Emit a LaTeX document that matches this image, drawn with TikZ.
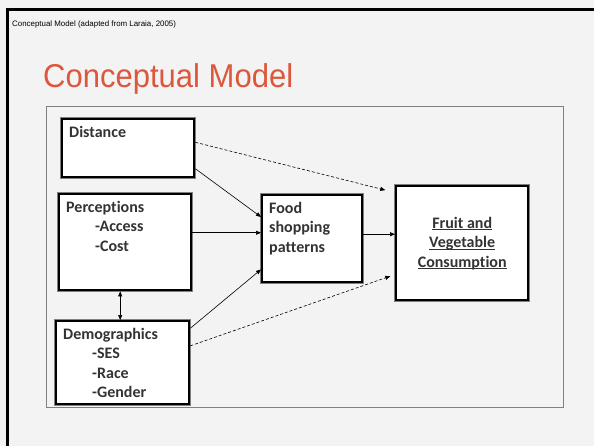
\documentclass[tikz,border=0pt]{standalone}
\usepackage{fontspec}
\setmainfont{Carlito}[Ligatures=NoCommon]
\newfontfamily\slidefont{Liberation Sans}
\usepackage{xcolor}
\usetikzlibrary{arrows.meta}
\definecolor{titlered}{HTML}{DC573C}
\definecolor{slidebg}{HTML}{F3F3F3}
\definecolor{boxtext}{HTML}{333333}

\newcommand{\boxtxt}[3]{\begin{minipage}[t][#2][t]{#1}#3\end{minipage}}
\newcommand{\undl}[1]{\leavevmode\setbox0\hbox{#1}\rlap{\rule[-2.2pt]{\wd0}{1.1pt}}\box0}

\begin{document}
\begin{tikzpicture}[x=1pt,y=-1pt,
  factor/.style={draw=black,line width=2.4pt,fill=white,anchor=north west,inner xsep=7pt,inner ysep=7pt,
    text=boxtext,font=\fontsize{16}{19.5}\selectfont\bfseries,preaction={draw=black!50,line width=4.4pt}},
  arr/.style={-{Triangle[length=5pt,width=4pt]},line width=0.6pt},
  darr/.style={arr,dash pattern=on 3pt off 2pt},
  biarr/.style={{Triangle[length=5pt,width=4pt]}-{Triangle[length=5pt,width=4pt]},line width=0.6pt}]
\fill[slidebg] (0,0) rectangle (594,446);
\useasboundingbox (0,0) rectangle (594,446);
\draw[line width=3pt] (7.5,446) -- (7.5,9.3) -- (594,9.3);
\node[anchor=base west,inner sep=0pt,font=\slidefont\fontsize{7.9}{9}\selectfont] (hdr) at (12,26.5)
   {Conceptual Model (adapted from Laraia, 2005)};
\node[anchor=base west,inner sep=0pt,text=titlered,font=\slidefont\fontsize{33}{36}\selectfont] (ttl) at (43,88)
   {\scalebox{0.94}[1]{Conceptual Model}};
% frame of the model
\draw[black!50,line width=0.8pt] (46,106) rectangle (563,407);
% factors
\node[factor] (dist) at (61,118) {\boxtxt{118pt}{44pt}{Distance}};
\node[factor] (perc) at (58,193) {\boxtxt{118pt}{82pt}{Perceptions\\
   \hspace*{29pt}-Access\\\hspace*{29pt}-Cost}};
\node[factor] (demo) at (55,320) {\boxtxt{119pt}{69pt}{Demographics\\
   \hspace*{29pt}-SES\\\hspace*{29pt}-Race\\\hspace*{29pt}-Gender}};
\node[factor] (food) at (261,194) {\boxtxt{86pt}{73pt}{Food\\shopping\\patterns}};
\node[factor] (fruit) at (395,185) {\begin{minipage}[t][100pt][c]{118pt}\centering
   \undl{Fruit and}\\\undl{Vegetable}\\\undl{Consumption}\end{minipage}};
% paths
\draw[arr] (dist.-17) -- (food.157);
\draw[darr,shorten >=10pt] (dist.5) -- (fruit.143);
\draw[arr] (perc.8) -- (perc.8 -| food.west);
\draw[arr] (demo.27) -- (food.211);
\draw[darr,shorten >=5pt] (demo.14) -- (fruit.205);
\draw[arr] (food.5) -- (food.5 -| fruit.west);
\draw[biarr] ([xshift=-5pt]perc.south) -- ([xshift=-5pt]perc.south |- demo.north);
\end{tikzpicture}
\end{document}
